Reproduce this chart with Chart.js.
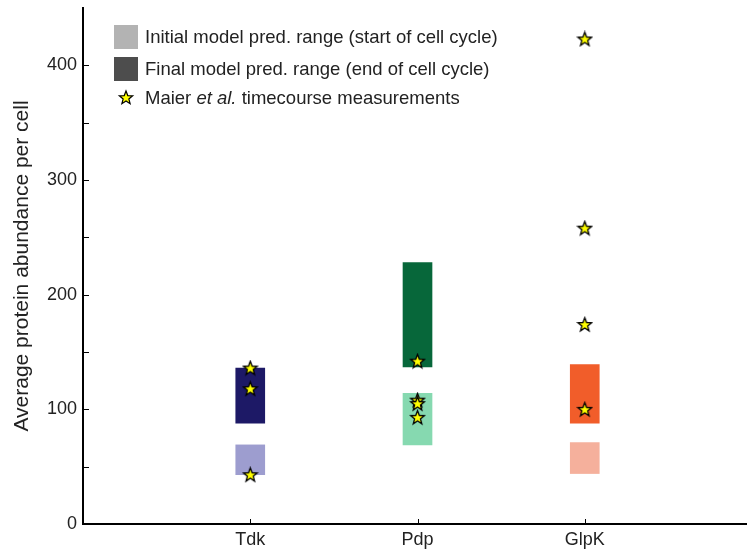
<!DOCTYPE html>
<html>
<head>
<meta charset="utf-8">
<script src="https://cdn.jsdelivr.net/npm/chart.js@4.4.1/dist/chart.umd.min.js"></script>
<style>
  html, body { margin: 0; padding: 0; background: #fff; }
  #wrap { position: relative; width: 747px; height: 552px; }
  #legend { position: absolute; left: 114px; top: 25px; font-family: "Liberation Sans", Arial, sans-serif; font-size: 18.5px; color: #222; }
  .row { position: absolute; left: 0; white-space: nowrap; height: 24px; line-height: 24px; }
  .sw { position: absolute; left: 0; top: 0; width: 24px; height: 24px; }
  .txt { position: absolute; left: 31px; top: 0; }
</style>
</head>
<body>
<div id="wrap">
  <canvas id="c" width="747" height="552"></canvas>
  <div id="legend">
    <div class="row" style="top:0px"><div class="sw" style="background:#b3b3b3"></div><span class="txt">Initial model pred. range (start of cell cycle)</span></div>
    <div class="row" style="top:32px"><div class="sw" style="background:#4d4d4d"></div><span class="txt">Final model pred. range (end of cell cycle)</span></div>
    <div class="row" style="top:61px"><svg class="sw" viewBox="0 0 24 24"><polygon points="12,5 13.76,9.57 18.66,9.84 14.85,12.93 16.11,17.66 12,15 7.89,17.66 9.15,12.93 5.34,9.84 10.24,9.57" fill="#ffff00" stroke="#000" stroke-width="1.2" stroke-linejoin="miter"/></svg><span class="txt">Maier <i>et al.</i> timecourse measurements</span></div>
  </div>
</div>
<script>
// ---- data ----
const categories = ['Tdk', 'Pdp', 'GlpK'];
const initialLow  = [43, 69, 44];
const initialHigh = [69, 114, 71];
const finalLow    = [88, 137, 88];
const finalHigh   = [136, 228, 139];
const measTdk  = [136, 118, 43];
const measPdp  = [142, 108, 105, 93];
const measGlpK = [423, 258, 174, 100];
const yTickLabels = [0, 100, 200, 300, 400];

const initialColors = ['#9d9dcf', '#86d9b0', '#f5b09c'];
const finalColors   = ['#1d1966', '#07673a', '#f15d2a'];

// star marker
function makeStar(size) {
  const c = document.createElement('canvas');
  c.width = size; c.height = size;
  const g = c.getContext('2d');
  const cx = size / 2, cy = size / 2 + 0.5, R = size / 2 - 1.2, r = R * 0.42;
  g.beginPath();
  for (let i = 0; i < 10; i++) {
    const rad = i % 2 === 0 ? R : r;
    const a = -Math.PI / 2 + i * Math.PI / 5;
    const px = cx + rad * Math.cos(a), py = cy + rad * Math.sin(a);
    if (i === 0) g.moveTo(px, py); else g.lineTo(px, py);
  }
  g.closePath();
  g.fillStyle = '#ffff00';
  g.fill();
  g.lineWidth = 1.3;
  g.strokeStyle = '#000';
  g.stroke();
  return c;
}
const star = makeStar(17);

const initialData = categories.map((c, i) => ({ x: i + 1, y: [initialLow[i], initialHigh[i]] }));
const finalData = categories.map((c, i) => ({ x: i + 1, y: [finalLow[i], finalHigh[i]] }));
const measData = [];
[measTdk, measPdp, measGlpK].forEach((arr, i) => arr.forEach(v => measData.push({ x: i + 1, y: v })));

const tickPlugin = {
  id: 'innerTicks',
  afterDraw(chart) {
    const ctx = chart.ctx;
    const xs = chart.scales.x, ys = chart.scales.y;
    const area = chart.chartArea;
    ctx.save();
    ctx.strokeStyle = '#000';
    ctx.lineWidth = 1;
    ys.ticks.forEach(t => {
      if (t.value >= 450) return;
      const py = Math.round(ys.getPixelForValue(t.value)) + 0.5;
      ctx.beginPath(); ctx.moveTo(area.left, py); ctx.lineTo(area.left + 6, py); ctx.stroke();
    });
    xs.ticks.forEach(t => {
      const px = Math.round(xs.getPixelForValue(t.value)) + 0.5;
      ctx.beginPath(); ctx.moveTo(px, area.bottom); ctx.lineTo(px, area.bottom - 5); ctx.stroke();
    });
    ctx.restore();
  }
};

const font = { family: '"Liberation Sans", Arial, sans-serif', size: 18 };

new Chart(document.getElementById('c'), {
  type: 'bar',
  data: {
    datasets: [
      { type: 'scatter', label: 'Maier et al. timecourse measurements', data: measData, pointStyle: star, pointRadius: 8, order: 0, clip: false },
      { label: 'Initial model pred. range (start of cell cycle)', data: initialData, backgroundColor: initialColors, barThickness: 29, grouped: false, order: 2 },
      { label: 'Final model pred. range (end of cell cycle)', data: finalData, backgroundColor: finalColors, barThickness: 29, grouped: false, order: 1 }
    ]
  },
  options: {
    responsive: false,
    animation: false,
    layout: { autoPadding: false, padding: { top: 8, right: 0, left: 0, bottom: 0 } },
    plugins: { legend: { display: false }, tooltip: { enabled: false } },
    scales: {
      x: {
        type: 'linear', min: 0, max: 3.97, offset: false,
        afterBuildTicks: s => { s.ticks = categories.map((c, i) => ({ value: i + 1 })); },
        afterFit: s => { s.height = 28; s.paddingLeft = 0; s.paddingRight = 0; },
        grid: { display: true, drawOnChartArea: false, drawTicks: false, offset: false },
        border: { color: '#000', width: 2 },
        ticks: { callback: v => categories[v - 1], color: '#222', font, padding: 5, maxRotation: 0 }
      },
      y: {
        min: 0, max: 450,
        afterBuildTicks: s => { const t = []; for (let v = 0; v <= 450; v += 50) t.push({ value: v }); s.ticks = t; },
        afterFit: s => { s.width = 83; s.paddingTop = 0; s.paddingBottom = 0; },
        grid: { display: true, drawOnChartArea: false, drawTicks: false },
        border: { color: '#000', width: 2 },
        ticks: { callback: v => yTickLabels.includes(v) ? String(v) : '', color: '#222', font, padding: 6 },
        title: { display: true, text: 'Average protein abundance per cell', color: '#222', font: { family: font.family, size: 21 }, padding: { top: 10, bottom: 0 } }
      }
    }
  },
  plugins: [tickPlugin]
});
</script>
</body>
</html>
